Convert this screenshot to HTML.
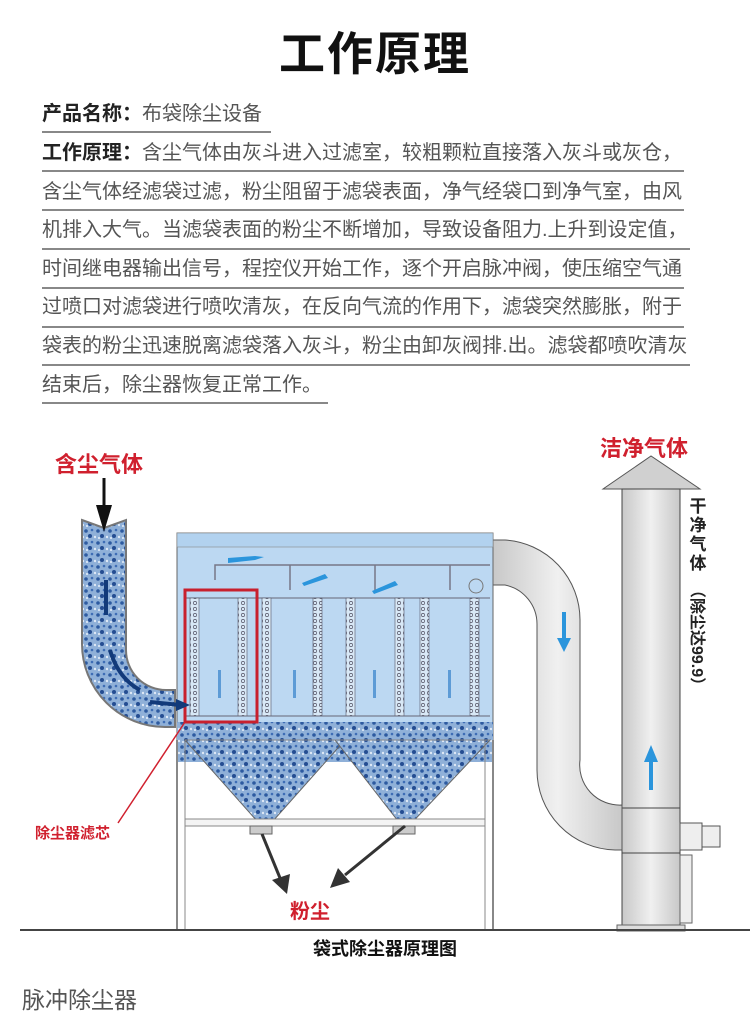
<!DOCTYPE html>
<html><head><meta charset="utf-8"><style>
body{margin:0;width:750px;height:1020px;background:#fff;overflow:hidden;position:relative;font-family:"Liberation Sans","Noto Sans CJK SC",sans-serif}
.t{position:absolute;left:0;width:750px;top:18px;text-align:center;font-size:46px;font-weight:bold;color:#111;letter-spacing:2px}
.l{position:absolute;left:42px;font-size:20px;color:#555;white-space:nowrap;line-height:24px}
.l b{color:#222}
.u{position:absolute;left:42px;height:2px;background:#888}
</style></head><body>
<div class="t">工作原理</div>
<div class="l" style="top:102px"><b>产品名称：</b>布袋除尘设备</div><div class="u" style="top:131px;width:229px"></div>
<div class="l" style="top:141px"><b>工作原理：</b>含尘气体由灰斗进入过滤室，较粗颗粒直接落入灰斗或灰仓，</div><div class="u" style="top:170px;width:642px"></div>
<div class="l" style="top:180px">含尘气体经滤袋过滤，粉尘阻留于滤袋表面，净气经袋口到净气室，由风</div><div class="u" style="top:209px;width:642px"></div>
<div class="l" style="top:218px">机排入大气。当滤袋表面的粉尘不断增加，导致设备阻力.上升到设定值，</div><div class="u" style="top:248px;width:648px"></div>
<div class="l" style="top:257px">时间继电器输出信号，程控仪开始工作，逐个开启脉冲阀，使压缩空气通</div><div class="u" style="top:287px;width:642px"></div>
<div class="l" style="top:295px">过喷口对滤袋进行喷吹清灰，在反向气流的作用下，滤袋突然膨胀，附于</div><div class="u" style="top:326px;width:642px"></div>
<div class="l" style="top:334px">袋表的粉尘迅速脱离滤袋落入灰斗，粉尘由卸灰阀排.出。滤袋都喷吹清灰</div><div class="u" style="top:364px;width:648px"></div>
<div class="l" style="top:373px">结束后，除尘器恢复正常工作。</div><div class="u" style="top:402px;width:286px"></div>

<svg width="750" height="1020" style="position:absolute;left:0;top:0" font-family="Liberation Sans,Noto Sans CJK SC,sans-serif">
<defs>
<pattern id="dust" width="12" height="12" patternUnits="userSpaceOnUse">
<rect width="12" height="12" fill="#8fb0d8"/>
<circle cx="2" cy="3" r="1.8" fill="#2d5aa0"/><circle cx="8" cy="2" r="1.3" fill="#3e6db5"/>
<circle cx="6" cy="8" r="2" fill="#244d92"/><circle cx="11" cy="9" r="1.2" fill="#dfe9f6"/>
<circle cx="3" cy="10" r="1" fill="#e8f0fa"/></pattern>
<pattern id="mesh" width="6" height="6" patternUnits="userSpaceOnUse"><rect width="6" height="6" fill="#d8e8f6"/><circle cx="3" cy="3" r="1.6" fill="none" stroke="#556" stroke-width="0.7"/></pattern>
<linearGradient id="gr" x1="0" x2="1"><stop offset="0" stop-color="#c8c8c8"/><stop offset=".5" stop-color="#f0f0f0"/><stop offset="1" stop-color="#c8c8c8"/></linearGradient>
</defs>
<polygon points="603,489 700,489 651,456" fill="#d0d0d0" stroke="#555"/>
<rect x="622" y="489" width="58" height="437" fill="url(#gr)" stroke="#444"/>
<line x1="622" y1="808" x2="680" y2="808" stroke="#444"/><line x1="622" y1="853" x2="680" y2="853" stroke="#444"/>
<rect x="680" y="823" width="22" height="27" fill="#eee" stroke="#555"/><rect x="702" y="826" width="18" height="21" fill="#eee" stroke="#555"/>
<rect x="680" y="855" width="12" height="68" fill="#eee" stroke="#666"/>
<rect x="617" y="925" width="68" height="6" fill="#ddd" stroke="#666"/>
<path d="M493,540 L505,540 A80,80 0 0 1 580,620 L580,760 A40,40 0 0 0 622,805 L622,850 L615,850 A80,80 0 0 1 537,770 L537,625 A40,40 0 0 0 505,585 L493,585 Z" fill="url(#gr)" stroke="#555"/>
<polygon points="566,612 562,612 562,638 557,638 564,652 571,638 566,638" fill="#2b95dc"/>
<polygon points="653,790 649,790 649,762 644,762 651,745 658,762 653,762" fill="#2b95dc"/>
<rect x="177" y="533" width="316" height="207" fill="#bcd8f2" stroke="#666"/>
<rect x="177" y="533" width="316" height="14" fill="#b2d2ef" stroke="#888" stroke-width=".6"/>
<rect x="177" y="722" width="316" height="40" fill="url(#dust)"/>
<polygon points="185,740 345,740 265,830" fill="url(#dust)" stroke="#666"/>
<polygon points="335,740 490,740 405,830" fill="url(#dust)" stroke="#666"/>
<line x1="185" y1="740" x2="490" y2="740" stroke="#888"/>
<line x1="177" y1="740" x2="177" y2="930" stroke="#888" stroke-width="2"/><line x1="185" y1="740" x2="185" y2="930" stroke="#888"/>
<line x1="485" y1="740" x2="485" y2="930" stroke="#888"/><line x1="493" y1="740" x2="493" y2="930" stroke="#888" stroke-width="2"/>
<rect x="185" y="819" width="300" height="7" fill="#f4f4f4" stroke="#888"/>
<rect x="250" y="826" width="22" height="8" fill="#ccc" stroke="#666"/><rect x="393" y="826" width="22" height="8" fill="#ccc" stroke="#666"/>
<path d="M215,580 L215,565 L490,565 M290,565 V590 M375,565 V590 M450,565 V590" fill="none" stroke="#778" stroke-width="1.5"/>
<circle cx="476" cy="586" r="7" fill="none" stroke="#777"/>
<line x1="185" y1="598" x2="490" y2="598" stroke="#667"/>
<polygon points="228,558 255,556 264,557 255,560 228,563" fill="#2b95dc"/>
<polygon points="302,583 325,574 328,578 304,586" fill="#2b95dc"/>
<polygon points="372,591 395,581 398,585 374,594" fill="#2b95dc"/>
<g stroke="#556" stroke-width=".6">
<rect x="190" y="598" width="9" height="118" fill="url(#mesh)"/><rect x="238" y="598" width="9" height="118" fill="url(#mesh)"/>
<rect x="262" y="598" width="9" height="118" fill="url(#mesh)"/><rect x="313" y="598" width="9" height="118" fill="url(#mesh)"/>
<rect x="346" y="598" width="9" height="118" fill="url(#mesh)"/><rect x="395" y="598" width="9" height="118" fill="url(#mesh)"/>
<rect x="420" y="598" width="9" height="118" fill="url(#mesh)"/><rect x="470" y="598" width="9" height="118" fill="url(#mesh)"/>
</g>
<line x1="185" y1="716" x2="490" y2="716" stroke="#667"/>
<g fill="#5d9bd6"><rect x="218" y="670" width="3" height="28"/><rect x="293" y="670" width="3" height="28"/><rect x="373" y="670" width="3" height="28"/><rect x="448" y="670" width="3" height="28"/></g>
<rect x="185" y="590" width="72" height="132" fill="none" stroke="#c8202e" stroke-width="3"/>
<path d="M82,520 L104,528 L126,520 L126,650 A40,40 0 0 0 166,690 L175,690 L175,727 L165,727 A83,83 0 0 1 82,644 Z" fill="url(#dust)" stroke="#777" stroke-width="2"/>
<line x1="104" y1="478" x2="104" y2="505" stroke="#111" stroke-width="3"/>
<polygon points="96,505 112,505 104,532" fill="#111"/>
<path d="M106,580 L106,615 M110,650 Q118,678 140,690 M150,702 L180,705" stroke="#123a7a" stroke-width="4" fill="none"/>
<polygon points="176,699 190,705 176,711" fill="#123a7a"/>
<text x="55" y="472" font-size="22" font-weight="bold" fill="#d0202e">含尘气体</text>
<text x="600" y="456" font-size="22" font-weight="bold" fill="#d0202e">洁净气体</text>
<g font-size="17" font-weight="bold" fill="#222" text-anchor="middle">
<text x="698" y="512">干</text><text x="698" y="531">净</text><text x="698" y="550">气</text><text x="698" y="569">体</text></g>
<text x="692" y="582" font-size="16" font-weight="bold" fill="#222" transform="rotate(90 692 582)">（除尘达99.9）</text>
<line x1="118" y1="823" x2="185" y2="722" stroke="#d0202e" stroke-width="1.5"/>
<text x="35" y="838" font-size="15" font-weight="bold" fill="#d0202e">除尘器滤芯</text>
<line x1="262" y1="834" x2="280" y2="878" stroke="#333" stroke-width="3"/><polygon points="272,880 290,874 287,894" fill="#333"/>
<line x1="405" y1="826" x2="345" y2="875" stroke="#333" stroke-width="3"/><polygon points="338,868 350,882 330,888" fill="#333"/>
<text x="290" y="918" font-size="20" font-weight="bold" fill="#d0202e">粉尘</text>
<line x1="20" y1="930" x2="750" y2="930" stroke="#444" stroke-width="2"/>
<text x="385" y="955" font-size="18" font-weight="bold" fill="#111" text-anchor="middle">袋式除尘器原理图</text>
<text x="22" y="1008" font-size="23" fill="#555">脉冲除尘器</text>
</svg>
</body></html>
